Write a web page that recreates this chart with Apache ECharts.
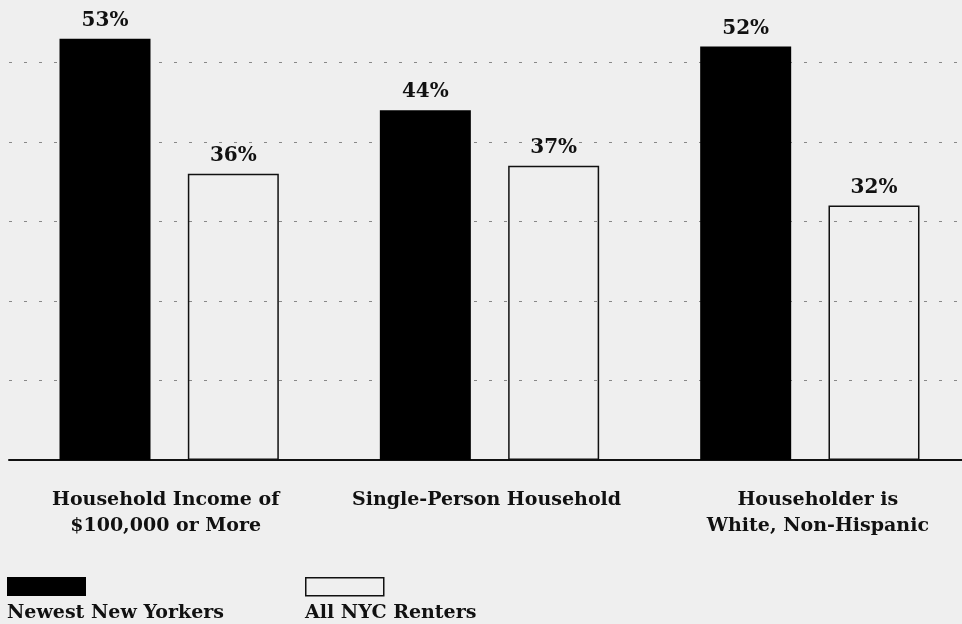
<!DOCTYPE html>
<html>
<head>
<meta charset="utf-8">
<script src="https://cdn.jsdelivr.net/npm/echarts@6/dist/echarts.min.js"></script>
<style>
  html, body { margin: 0; padding: 0; background: #efefef; }
  #chart { width: 962px; height: 624px; }
</style>
</head>
<body>
<div id="chart"></div>
<script>
const categories = ['Household Income of\n$100,000 or More', 'Single-Person Household', 'Householder is\nWhite, Non-Hispanic']
const newestNewYorkers = [53, 44, 52]
const allRenters = [36, 37, 32]
const seriesNames = ['Newest New Yorkers', 'All NYC Renters']

const font = 'DejaVu Serif'
const ink = '#111'
// labels in the original sit a few px off the group centres
const labelPad = [[0, 7, 0, 0], [0, 6, 0, 0], [0, 0, 0, 16]]

const chart = echarts.init(document.getElementById('chart'))
chart.setOption({
  backgroundColor: '#efefef',
  animation: false,
  textStyle: { fontFamily: font },
  grid: { left: 9, width: 961, top: -17, height: 477, outerBoundsMode: 'none', containLabel: false },
  title: [
    { text: seriesNames[0], left: 7, top: 604, padding: 0, textStyle: { fontFamily: font, fontSize: 19, fontWeight: 'bold', color: ink } },
    { text: seriesNames[1], left: 305, top: 604, padding: 0, textStyle: { fontFamily: font, fontSize: 19, fontWeight: 'bold', color: ink } },
  ],
  legend: [
    { data: [seriesNames[0]], left: 7, top: 577, padding: 0, icon: 'rect', itemWidth: 79, itemHeight: 19, formatter: () => '' },
    { data: [{ name: seriesNames[1], itemStyle: { color: 'rgba(0,0,0,0)', borderColor: ink, borderWidth: 1.5 } }], left: 305, top: 577, padding: 0, icon: 'rect', itemWidth: 78, itemHeight: 18, formatter: () => '' },
  ],
  xAxis: {
    type: 'category',
    data: categories.map((c, i) => ({ value: c, textStyle: { padding: labelPad[i] } })),
    axisTick: { show: false },
    axisLine: { lineStyle: { color: ink, width: 2 } },
    axisLabel: { color: ink, fontFamily: font, fontSize: 19, fontWeight: 'bold', lineHeight: 26, margin: 27, interval: 0 },
  },
  yAxis: {
    type: 'value',
    min: 0,
    max: 60,
    interval: 10,
    axisLabel: { show: false },
    axisLine: { show: false },
    axisTick: { show: false },
    splitLine: { lineStyle: { color: '#888', width: 1, type: [3, 12] } },
  },
  series: [
    {
      name: seriesNames[0],
      type: 'bar',
      data: newestNewYorkers,
      barWidth: 91,
      barGap: '41%',
      itemStyle: { color: '#000' },
      label: { show: true, position: 'top', distance: 8, formatter: '{c}%', color: ink, fontFamily: font, fontSize: 20, fontWeight: 'bold' },
    },
    {
      name: seriesNames[1],
      type: 'bar',
      data: allRenters,
      barWidth: 91,
      itemStyle: { color: 'rgba(0,0,0,0)', borderColor: ink, borderWidth: 1.5 },
      label: { show: true, position: 'top', distance: 8, formatter: '{c}%', color: ink, fontFamily: font, fontSize: 20, fontWeight: 'bold' },
    },
  ],
})
</script>
</body>
</html>
